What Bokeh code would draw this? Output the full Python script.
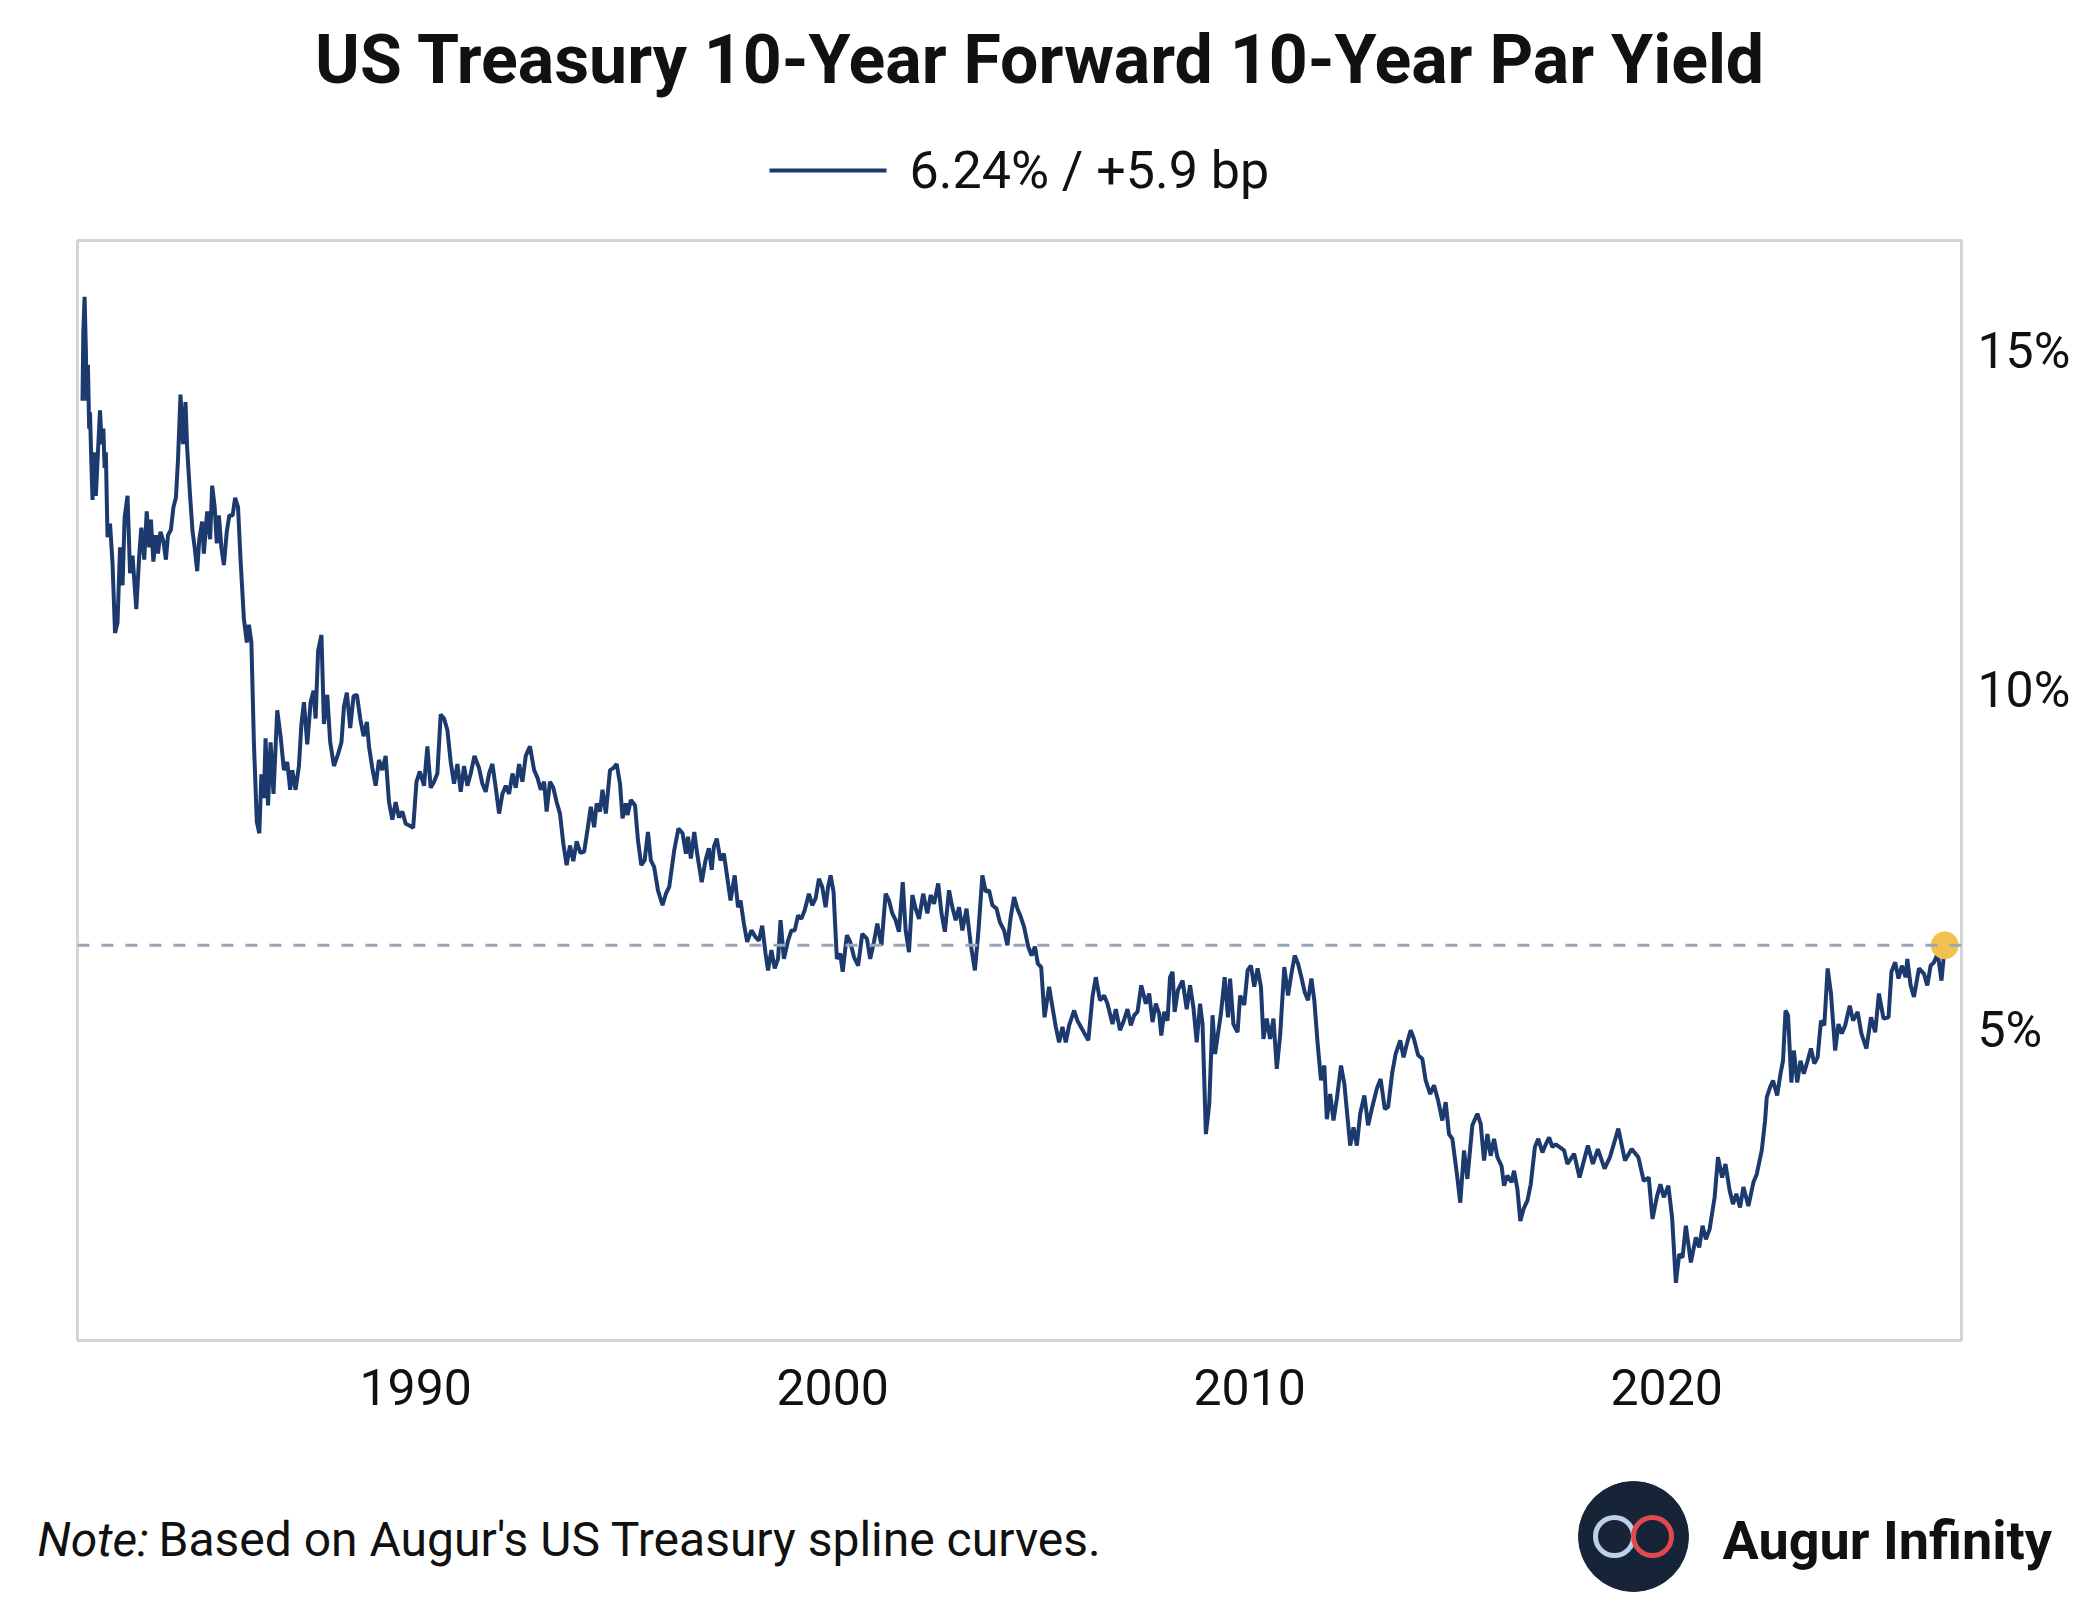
from bokeh.plotting import figure
from bokeh.layouts import column
from bokeh.models import Range1d, Span, FixedTicker, PrintfTickFormatter
from bokeh.core.properties import value
from bokeh.embed import file_html
from bokeh.resources import INLINE

FONT = "Roboto"
NAVY = "#1c3a6e"

# weekly-ish readings of the 10y10y forward par yield (%)
dates = [
    1982.01, 1982.03, 1982.06, 1982.09, 1982.11, 1982.14, 1982.17, 1982.19, 1982.22, 1982.25,
    1982.29, 1982.33, 1982.38, 1982.43, 1982.47, 1982.51, 1982.54, 1982.57, 1982.61, 1982.67,
    1982.73, 1982.79, 1982.85, 1982.91, 1982.97, 1983.02, 1983.09, 1983.15, 1983.21, 1983.30,
    1983.37, 1983.42, 1983.49, 1983.55, 1983.61, 1983.65, 1983.71, 1983.77, 1983.82, 1983.88,
    1983.95, 1984.01, 1984.06, 1984.13, 1984.19, 1984.25, 1984.30, 1984.36, 1984.42, 1984.48,
    1984.52, 1984.59, 1984.65, 1984.70, 1984.76, 1984.81, 1984.88, 1984.92, 1985.00, 1985.07,
    1985.12, 1985.18, 1985.23, 1985.28, 1985.34, 1985.40, 1985.47, 1985.53, 1985.61, 1985.67,
    1985.74, 1985.80, 1985.88, 1985.95, 1986.00, 1986.06, 1986.12, 1986.19, 1986.25, 1986.30,
    1986.36, 1986.40, 1986.46, 1986.52, 1986.59, 1986.68, 1986.76, 1986.84, 1986.92, 1986.99,
    1987.04, 1987.12, 1987.20, 1987.26, 1987.32, 1987.40, 1987.48, 1987.55, 1987.60, 1987.66,
    1987.74, 1987.80, 1987.88, 1987.95, 1988.04, 1988.14, 1988.22, 1988.28, 1988.35, 1988.43,
    1988.51, 1988.59, 1988.67, 1988.75, 1988.83, 1988.88, 1988.96, 1989.04, 1989.12, 1989.20,
    1989.28, 1989.36, 1989.44, 1989.52, 1989.60, 1989.68, 1989.76, 1989.86, 1989.94, 1990.02,
    1990.10, 1990.20, 1990.28, 1990.36, 1990.44, 1990.52, 1990.60, 1990.68, 1990.76, 1990.84,
    1990.92, 1991.00, 1991.08, 1991.16, 1991.24, 1991.32, 1991.41, 1991.52, 1991.60, 1991.68,
    1991.76, 1991.84, 1991.92, 1992.00, 1992.08, 1992.16, 1992.24, 1992.32, 1992.40, 1992.48,
    1992.56, 1992.64, 1992.74, 1992.84, 1992.92, 1993.00, 1993.08, 1993.14, 1993.22, 1993.30,
    1993.38, 1993.46, 1993.54, 1993.62, 1993.70, 1993.78, 1993.86, 1993.95,
    1994.04, 1994.12, 1994.20, 1994.28, 1994.34, 1994.42, 1994.48, 1994.56, 1994.66, 1994.74,
    1994.82, 1994.90, 1994.96, 1995.04, 1995.08, 1995.16, 1995.26, 1995.33, 1995.41, 1995.49,
    1995.57, 1995.64, 1995.72, 1995.81, 1995.92, 1996.00, 1996.08, 1996.20, 1996.30, 1996.40,
    1996.48, 1996.53, 1996.60, 1996.68, 1996.75, 1996.86, 1996.95, 1997.03, 1997.10, 1997.15,
    1997.22, 1997.31, 1997.39, 1997.47, 1997.55, 1997.65, 1997.73, 1997.79, 1997.87, 1997.95,
    1998.05, 1998.15, 1998.23, 1998.31, 1998.39, 1998.45, 1998.53, 1998.61, 1998.69, 1998.75,
    1998.83, 1998.93, 1999.01, 1999.09, 1999.17, 1999.25, 1999.33, 1999.43, 1999.51, 1999.59,
    1999.67, 1999.75, 1999.83, 1999.89, 1999.95, 2000.02, 2000.10, 2000.18, 2000.24, 2000.34,
    2000.42, 2000.51, 2000.61, 2000.71, 2000.82, 2000.90, 2000.99, 2001.07, 2001.17, 2001.27,
    2001.35, 2001.43, 2001.51, 2001.59, 2001.68, 2001.75, 2001.83, 2001.91, 2001.99, 2002.07,
    2002.17, 2002.27, 2002.35, 2002.43, 2002.53, 2002.61, 2002.69, 2002.79, 2002.87, 2002.95,
    2003.03, 2003.11, 2003.21, 2003.31, 2003.41, 2003.49, 2003.59, 2003.67, 2003.75, 2003.83,
    2003.93, 2004.01, 2004.11, 2004.19, 2004.27, 2004.35, 2004.43, 2004.51, 2004.59, 2004.69,
    2004.77, 2004.85, 2004.92, 2005.00, 2005.08, 2005.19, 2005.27, 2005.35, 2005.43, 2005.51,
    2005.59, 2005.67, 2005.79, 2005.87,
    2006.13, 2006.23, 2006.31, 2006.41, 2006.51, 2006.59, 2006.71, 2006.79, 2006.89, 2006.97,
    2007.07, 2007.15, 2007.23, 2007.31, 2007.40, 2007.51, 2007.59, 2007.67, 2007.75, 2007.83,
    2007.88, 2007.95, 2008.03, 2008.09, 2008.15, 2008.20, 2008.28, 2008.39, 2008.49, 2008.57,
    2008.65, 2008.73, 2008.81, 2008.87, 2008.95, 2009.03, 2009.11, 2009.17, 2009.24, 2009.31,
    2009.40, 2009.48, 2009.53, 2009.61, 2009.71, 2009.77, 2009.87, 2009.95, 2010.03, 2010.11,
    2010.19, 2010.27, 2010.33, 2010.41, 2010.49, 2010.57, 2010.65, 2010.73, 2010.83, 2010.92,
    2011.00, 2011.08, 2011.16, 2011.24, 2011.32, 2011.40, 2011.48, 2011.55, 2011.63, 2011.71,
    2011.79, 2011.85, 2011.93, 2012.01, 2012.09, 2012.19, 2012.27, 2012.35, 2012.41, 2012.49,
    2012.57, 2012.65, 2012.75, 2012.84, 2012.94, 2013.05, 2013.14, 2013.24, 2013.32, 2013.42,
    2013.50, 2013.61, 2013.69, 2013.77, 2013.86, 2013.94, 2014.04, 2014.14, 2014.22, 2014.33,
    2014.42, 2014.52, 2014.62, 2014.70, 2014.78, 2014.86, 2014.97, 2015.05, 2015.14, 2015.22,
    2015.34, 2015.46, 2015.54, 2015.62, 2015.70, 2015.78, 2015.86, 2015.94, 2016.04, 2016.10,
    2016.18, 2016.28, 2016.34, 2016.42, 2016.49, 2016.57, 2016.66, 2016.74, 2016.84, 2016.92,
    2017.02, 2017.10, 2017.18, 2017.26, 2017.34,
    2017.54, 2017.62, 2017.78, 2017.91, 2018.11, 2018.23, 2018.35, 2018.51, 2018.64, 2018.84,
    2019.00, 2019.16, 2019.32, 2019.45, 2019.57, 2019.66, 2019.77, 2019.85, 2019.93, 2020.04,
    2020.13, 2020.22, 2020.30, 2020.38, 2020.46, 2020.58, 2020.70, 2020.78, 2020.86, 2020.94,
    2021.03, 2021.15, 2021.23, 2021.33, 2021.41, 2021.51, 2021.59, 2021.67, 2021.76, 2021.84,
    2021.96, 2022.08, 2022.16, 2022.28, 2022.36, 2022.40, 2022.48, 2022.55, 2022.65, 2022.73,
    2022.79, 2022.85, 2022.91, 2022.99, 2023.05, 2023.13, 2023.21, 2023.29, 2023.38, 2023.46,
    2023.54, 2023.62, 2023.70, 2023.78, 2023.86, 2023.94, 2024.04, 2024.12, 2024.20, 2024.28,
    2024.39, 2024.47, 2024.58, 2024.67, 2024.79, 2024.90, 2025.00, 2025.09, 2025.20, 2025.32,
    2025.39, 2025.48, 2025.56, 2025.64, 2025.73, 2025.77, 2025.85, 2025.93, 2026.05, 2026.17,
    2026.25, 2026.33, 2026.41, 2026.50, 2026.59, 2026.67,
]

yields = [
    14.26, 15.29, 15.79, 15.03, 14.26, 14.79, 13.85, 14.09, 13.39, 12.80,
    13.50, 12.86, 13.50, 14.12, 13.62, 13.85, 13.27, 13.50, 12.25, 12.45,
    11.87, 10.84, 10.99, 12.10, 11.54, 12.54, 12.86, 11.72, 11.98, 11.19,
    11.98, 12.39, 11.92, 12.63, 12.10, 12.51, 11.89, 12.28, 12.01, 12.33,
    12.19, 11.92, 12.28, 12.36, 12.69, 12.83, 13.39, 14.35, 13.62, 14.24,
    13.56, 12.86, 12.33, 12.10, 11.75, 12.22, 12.48, 12.01, 12.63, 12.22,
    13.01, 12.69, 12.16, 12.57, 12.10, 11.84, 12.33, 12.57, 12.57, 12.83,
    12.69, 11.92, 11.05, 10.70, 10.96, 10.70, 9.23, 8.06, 7.89, 8.76,
    8.41, 9.29, 8.30, 9.23, 8.47, 9.70, 9.32, 8.82, 8.94, 8.53,
    8.82, 8.53, 8.88, 9.50, 9.82, 9.20, 9.82, 9.99, 9.58, 10.58,
    10.81, 9.50, 9.93, 9.23, 8.88, 9.06, 9.23, 9.76, 9.96, 9.44,
    9.91, 9.93, 9.58, 9.32, 9.53, 9.17, 8.85, 8.59, 8.97, 8.82,
    9.03, 8.35, 8.09, 8.35, 8.12, 8.21, 8.03, 8.00, 7.97, 8.65,
    8.80, 8.59, 9.17, 8.56, 8.65, 8.77, 9.64, 9.58, 9.41, 8.94,
    8.62, 8.91, 8.50, 8.88, 8.59, 8.77, 9.03, 8.85, 8.62, 8.50,
    8.77, 8.91, 8.56, 8.18, 8.47, 8.59, 8.47, 8.77, 8.56, 8.91,
    8.65, 9.03, 9.17, 8.82, 8.71, 8.53, 8.65, 8.21, 8.65, 8.56,
    8.35, 8.18, 7.74, 7.42, 7.71, 7.48, 7.77, 7.60,
    7.62, 7.94, 8.28, 7.98, 8.33, 8.21, 8.53, 8.18, 8.82, 8.85,
    8.91, 8.62, 8.11, 8.33, 8.16, 8.38, 8.30, 7.79, 7.42, 7.49,
    7.91, 7.49, 7.39, 7.05, 6.83, 7.00, 7.10, 7.64, 7.96, 7.89,
    7.59, 7.84, 7.52, 7.91, 7.59, 7.17, 7.49, 7.67, 7.35, 7.69,
    7.81, 7.49, 7.59, 7.25, 6.90, 7.27, 6.80, 6.90, 6.56, 6.29,
    6.46, 6.36, 6.31, 6.53, 6.12, 5.87, 6.17, 5.90, 6.04, 6.61,
    6.04, 6.31, 6.46, 6.46, 6.68, 6.63, 6.76, 7.00, 6.83, 6.93,
    7.22, 7.10, 6.80, 7.10, 7.27, 7.03, 6.04, 6.12, 5.85, 6.39,
    6.29, 6.07, 5.94, 6.41, 6.34, 6.04, 6.29, 6.56, 6.24, 7.00,
    6.90, 6.71, 6.61, 6.44, 7.17, 6.46, 6.14, 6.98, 6.78, 6.63,
    7.00, 6.71, 6.98, 6.85, 7.15, 6.71, 6.44, 7.05, 6.80, 6.61,
    6.80, 6.46, 6.78, 6.26, 5.87, 6.41, 7.27, 7.03, 7.05, 6.83,
    6.78, 6.58, 6.46, 6.24, 6.66, 6.95, 6.78, 6.66, 6.51, 6.22,
    6.09, 6.22, 5.97, 5.92, 5.18, 5.63, 5.33, 5.04, 4.81, 5.04,
    4.81, 5.06, 5.28, 5.13,
    4.84, 5.48, 5.77, 5.43, 5.50, 5.38, 5.08, 5.30, 4.99, 5.11,
    5.30, 5.06, 5.21, 5.26, 5.65, 5.38, 5.53, 5.11, 5.38, 5.23,
    4.91, 5.26, 5.13, 5.77, 5.85, 5.26, 5.58, 5.72, 5.30, 5.65,
    5.33, 4.81, 5.38, 5.08, 3.46, 3.90, 5.21, 4.64, 4.94, 5.23,
    5.77, 5.18, 5.75, 5.08, 4.96, 5.50, 5.36, 5.87, 5.94, 5.63,
    5.90, 5.63, 4.86, 5.16, 4.86, 5.16, 4.42, 4.91, 5.92, 5.50,
    5.82, 6.09, 5.97, 5.77, 5.55, 5.43, 5.75, 5.43, 4.79, 4.25,
    4.47, 3.68, 4.05, 3.66, 3.98, 4.47, 4.20, 3.68, 3.29, 3.56,
    3.29, 3.76, 4.03, 3.59, 3.86, 4.13, 4.27, 3.83, 3.86, 4.37,
    4.64, 4.84, 4.59, 4.79, 4.99, 4.86, 4.62, 4.57, 4.25, 4.05,
    4.18, 3.95, 3.66, 3.93, 3.46, 3.39, 2.87, 2.45, 3.22, 2.80,
    3.59, 3.76, 3.61, 3.07, 3.46, 3.14, 3.39, 3.12, 2.99, 2.70,
    2.85, 2.75, 2.92, 2.65, 2.18, 2.36, 2.48, 2.72, 3.27, 3.39,
    3.19, 3.31, 3.41, 3.27, 3.31,
    3.22, 3.02, 3.17, 2.82, 3.29, 3.02, 3.24, 2.95, 3.12, 3.54,
    3.07, 3.24, 3.12, 2.77, 2.82, 2.21, 2.55, 2.72, 2.53, 2.70,
    2.23, 1.27, 1.69, 1.64, 2.11, 1.57, 1.94, 1.79, 2.11, 1.91,
    2.06, 2.53, 3.12, 2.82, 3.02, 2.63, 2.43, 2.58, 2.38, 2.68,
    2.40, 2.75, 2.87, 3.22, 3.66, 4.00, 4.15, 4.25, 4.03, 4.35,
    4.54, 5.28, 5.21, 4.22, 4.69, 4.22, 4.54, 4.35, 4.54, 4.72,
    4.50, 4.59, 5.13, 5.06, 5.90, 5.53, 4.69, 5.08, 4.94, 5.06,
    5.35, 5.13, 5.26, 4.94, 4.72, 5.18, 4.96, 5.53, 5.16, 5.18,
    5.85, 5.99, 5.75, 5.94, 5.77, 6.04, 5.65, 5.48, 5.90, 5.82,
    5.65, 5.94, 5.99, 6.12, 5.72, 6.24,
]

x_ticks = [1990, 2000, 2010, 2020]
y_ticks = [5, 10, 15]

last_value = yields[-1]
legend_text = "6.24% / +5.9 bp"
title_text = "US Treasury 10-Year Forward 10-Year Par Yield"
note_label = "Note:"
note_text = "Based on Augur's US Treasury spline curves."
brand_text = "Augur Infinity"

W = 2080


def blank(h):
    f = figure(width=W, height=h, x_range=Range1d(0, W), y_range=Range1d(0, h),
               output_backend="svg", toolbar_location=None, min_border=0,
               x_axis_location=None, y_axis_location=None, frame_align=False)
    f.grid.visible = False
    f.outline_line_color = None
    return f


# header: title + legend
head = blank(208)
head.text(x=[1040], y=[149], text=[title_text], text_align="center",
          text_baseline="middle", text_font=value(FONT), text_font_style="bold",
          text_font_size="68px", text_color="#111111")
head.line(x=[769, 886], y=[38, 38], line_color=NAVY, line_width=4)
head.text(x=[909], y=[38], text=[legend_text], text_align="left",
          text_baseline="middle", text_font=value(FONT), text_font_size="52px",
          text_color="#111111")

# main chart
p = figure(width=W, height=1232, x_range=Range1d(1981.89, 2027.07),
           y_range=Range1d(0.42, 16.62), y_axis_location="right",
           output_backend="svg", toolbar_location=None, frame_align=False,
           min_border_left=77, min_border_right=119, min_border_top=32,
           min_border_bottom=100)
p.grid.visible = False
p.outline_line_color = "#d4d4d4"
p.outline_line_width = 3

p.add_layout(Span(location=last_value, dimension="width", line_color="#98a6b8",
                  line_width=3, line_dash="12 12"))
p.line(dates, yields, line_color=NAVY, line_width=4)
p.scatter([dates[-1]], [last_value], size=27, color="#f2c14e")

for ax in (p.xaxis[0], p.yaxis[0]):
    ax.axis_line_color = None
    ax.major_tick_line_color = None
    ax.minor_tick_line_color = None
    ax.major_tick_out = 0
    ax.major_tick_in = 0
    ax.minor_tick_out = 0
    ax.major_label_text_font = FONT
    ax.major_label_text_font_size = "50px"
    ax.major_label_text_color = "#111111"

p.xaxis.ticker = FixedTicker(ticks=x_ticks)
p.xaxis.major_label_standoff = 28
p.yaxis.ticker = FixedTicker(ticks=y_ticks)
p.yaxis.formatter = PrintfTickFormatter(format="%d%%")
p.yaxis.major_label_standoff = 16

# footer: note + logo
foot = blank(184)
foot.text(x=[37], y=[85], text=[note_label], text_align="left", text_baseline="middle",
          text_font=value(FONT), text_font_style="italic", text_font_size="48px",
          text_color="#111111")
foot.text(x=[158], y=[85], text=[note_text], text_align="left", text_baseline="middle",
          text_font=value(FONT), text_font_size="48px", text_color="#111111")
foot.scatter([1633], [88], size=110, color="#172437")
foot.scatter([1614], [88], size=38, fill_color=None, line_color="#bcd0ea", line_width=5)
foot.scatter([1652], [88], size=38, fill_color=None, line_color="#e04a4f", line_width=5)
foot.text(x=[1722], y=[84], text=[brand_text], text_align="left", text_baseline="middle",
          text_font=value(FONT), text_font_style="bold", text_font_size="54px",
          text_color="#111111")

layout = column(head, p, foot, spacing=0)
open("out.html", "w").write(file_html(layout, INLINE))
